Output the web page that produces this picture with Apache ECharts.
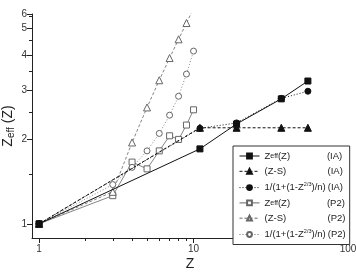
<!DOCTYPE html>
<html>
<head>
<meta charset="utf-8">
<script src="https://cdn.jsdelivr.net/npm/echarts@6/dist/echarts.min.js"></script>
<style>
  html, body { margin: 0; padding: 0; background: #fff; }
  #chart { width: 356px; height: 273px; }
</style>
</head>
<body>
<div id="chart"></div>
<script>
// group IA (H, Na, K, Rb, Cs)
var zIA = [1, 11, 19, 37, 55];
var zeffIA = [1, 1.85, 2.27, 2.79, 3.23];
var zsIA = [1, 2.2, 2.2, 2.2, 2.2];
var formIA = [1, 2.19, 2.29, 2.8, 2.97];

// period 2 (H, Li .. Ne)
var zP2 = [1, 3, 4, 5, 6, 7, 8, 9, 10];
var zeffP2 = [1, 1.26, 1.66, 1.57, 1.82, 2.06, 2.0, 2.25, 2.55];
var zsP2 = [1, 1.3, 1.95, 2.6, 3.25, 3.9, 4.55, 5.2, 5.85];
var formP2 = [1, 1.38, 1.59, 1.82, 2.1, 2.44, 2.85, 3.42, 4.13];

// ticks
var xMajor = [1, 10, 100];
var xMinor = [2, 3, 4, 5, 6, 7, 8, 9, 20, 30, 40, 50, 60, 70, 80, 90];
var yMajor = [1, 2, 3, 4, 5, 5.6];
var yMinor = [1.5, 2.5, 3.5, 4.5, 5.5];

var FONT = '"Liberation Sans", Arial, sans-serif';

function pairs(xs, ys) {
    var out = [];
    for (var i = 0; i < xs.length; i++) {
        out.push([xs[i], ys[i]]);
    }
    return out;
}

function line(name, xs, ys, symbol, filled, lineType) {
    var col = filled ? '#111' : '#666';
    return {
        name: name,
        type: 'line',
        data: pairs(xs, ys),
        symbol: symbol,
        symbolSize: symbol === 'triangle' ? 7 : 6,
        showSymbol: true,
        animation: false,
        z: filled ? 3 : 2,
        lineStyle: { color: col, width: filled ? 1 : 0.8, type: lineType },
        itemStyle: {
            color: filled ? '#111' : '#fff',
            borderColor: col,
            borderWidth: 1
        }
    };
}

var series = [
    line('zeff-IA', zIA, zeffIA, 'rect', true, 'solid'),
    line('zs-IA', zIA, zsIA, 'triangle', true, [3, 2]),
    line('form-IA', zIA, formIA, 'circle', true, [1, 2]),
    line('zeff-P2', zP2, zeffP2, 'rect', false, 'solid'),
    line('zs-P2', zP2, zsP2, 'triangle', false, [3, 2]),
    line('form-P2', zP2, formP2, 'circle', false, [1, 2])
];

var legendText = {
    'zeff-IA': '{z|Z}{e|eff}{zw|(Z)}{g|(IA)}',
    'zs-IA': '{n|(Z-S)}{g|(IA)}',
    'form-IA': '{f|1/(1+(1-Z}{sup|2/3}{f2|)/n)}{g|(IA)}',
    'zeff-P2': '{z|Z}{e|eff}{zw|(Z)}{g|(P2)}',
    'zs-P2': '{n|(Z-S)}{g|(P2)}',
    'form-P2': '{f|1/(1+(1-Z}{sup|2/3}{f2|)/n)}{g|(P2)}'
};

var axisCommon = {
    type: 'log',
    logBase: 10,
    axisLine: { show: true, onZero: false, lineStyle: { color: '#222', width: 1 } },
    splitLine: { show: false },
    minorTick: { show: false },
    minorSplitLine: { show: false }
};

// merge shared axis settings
function $x(o) {
    var r = JSON.parse(JSON.stringify(axisCommon));
    for (var k in o) {
        if (typeof o[k] === 'object' && !Array.isArray(o[k]) && r[k]) {
            for (var kk in o[k]) r[k][kk] = o[k][kk];
        } else {
            r[k] = o[k];
        }
    }
    return r;
}

var chart = echarts.init(document.getElementById('chart'), null, { renderer: 'canvas' });

chart.setOption({
    animation: false,
    backgroundColor: '#fff',
    textStyle: { fontFamily: FONT },
    grid: { left: 32, right: 8, top: 14, bottom: 35, containLabel: false, outerBoundsMode: 'none' },
    xAxis: [
        $x({
            min: 0.9, max: 100,
            name: 'Z',
            nameLocation: 'middle',
            nameGap: 19,
            nameMoveOverlap: false,
            nameTextStyle: { fontSize: 14, color: '#222', fontFamily: FONT },
            axisTick: { show: true, length: 5, customValues: xMajor, lineStyle: { color: '#222' } },
            axisLabel: { show: true, customValues: xMajor, fontSize: 10, color: '#333', margin: 6, fontFamily: FONT }
        }),
        $x({
            min: 0.9, max: 100,
            position: 'bottom',
            axisLine: { show: false },
            axisTick: { show: true, length: 3, customValues: xMinor, lineStyle: { color: '#222' } },
            axisLabel: { show: false }
        })
    ],
    yAxis: [
        $x({
            min: 0.89, max: 5.6,
            name: '{z|Z}{e|eff}{z| (Z)}',
            nameLocation: 'middle',
            nameRotate: 90,
            nameGap: 16,
            nameMoveOverlap: false,
            nameTextStyle: {
                color: '#222',
                rich: {
                    z: { fontSize: 14, fontFamily: FONT, color: '#222' },
                    e: { fontSize: 10, fontFamily: FONT, color: '#222', padding: [6, 0, 0, 0] }
                }
            },
            axisTick: { show: true, length: 5, customValues: yMajor, lineStyle: { color: '#222' } },
            axisLabel: {
                show: true, customValues: yMajor, fontSize: 10, color: '#333', margin: 5, fontFamily: FONT,
                formatter: function (v) { return String(Math.round(v)); }
            }
        }),
        $x({
            min: 0.89, max: 5.6,
            position: 'left',
            axisLine: { show: false },
            axisTick: { show: true, length: 3, customValues: yMinor, lineStyle: { color: '#222' } },
            axisLabel: { show: false }
        })
    ],
    legend: {
        orient: 'vertical',
        left: 233,
        top: 146,
        width: 114,
        padding: [5, 4, 5, 6],
        itemWidth: 20,
        itemHeight: 6,
        itemGap: 5.3,
        borderColor: '#333',
        borderWidth: 1,
        backgroundColor: '#fff',
        lineStyle: { width: 1 },
        data: series.map(function (s) { return s.name; }),
        formatter: function (name) { return legendText[name]; },
        textStyle: {
            fontFamily: FONT,
            fontSize: 9,
            color: '#222',
            rich: {
                z: { fontSize: 9.5, fontFamily: FONT },
                e: { fontSize: 7, fontFamily: FONT },
                zw: { fontSize: 9.5, fontFamily: FONT, width: 47 },
                n: { fontSize: 9.5, fontFamily: FONT, width: 61 },
                f: { fontSize: 9.5, fontFamily: FONT },
                sup: { fontSize: 5.5, fontFamily: FONT, padding: [0, 0, 6, 0] },
                f2: { fontSize: 9.5, fontFamily: FONT },
                g: { fontSize: 9.5, fontFamily: FONT, padding: [0, 0, 0, 2] }
            }
        }
    },
    series: series
});
</script>
</body>
</html>
